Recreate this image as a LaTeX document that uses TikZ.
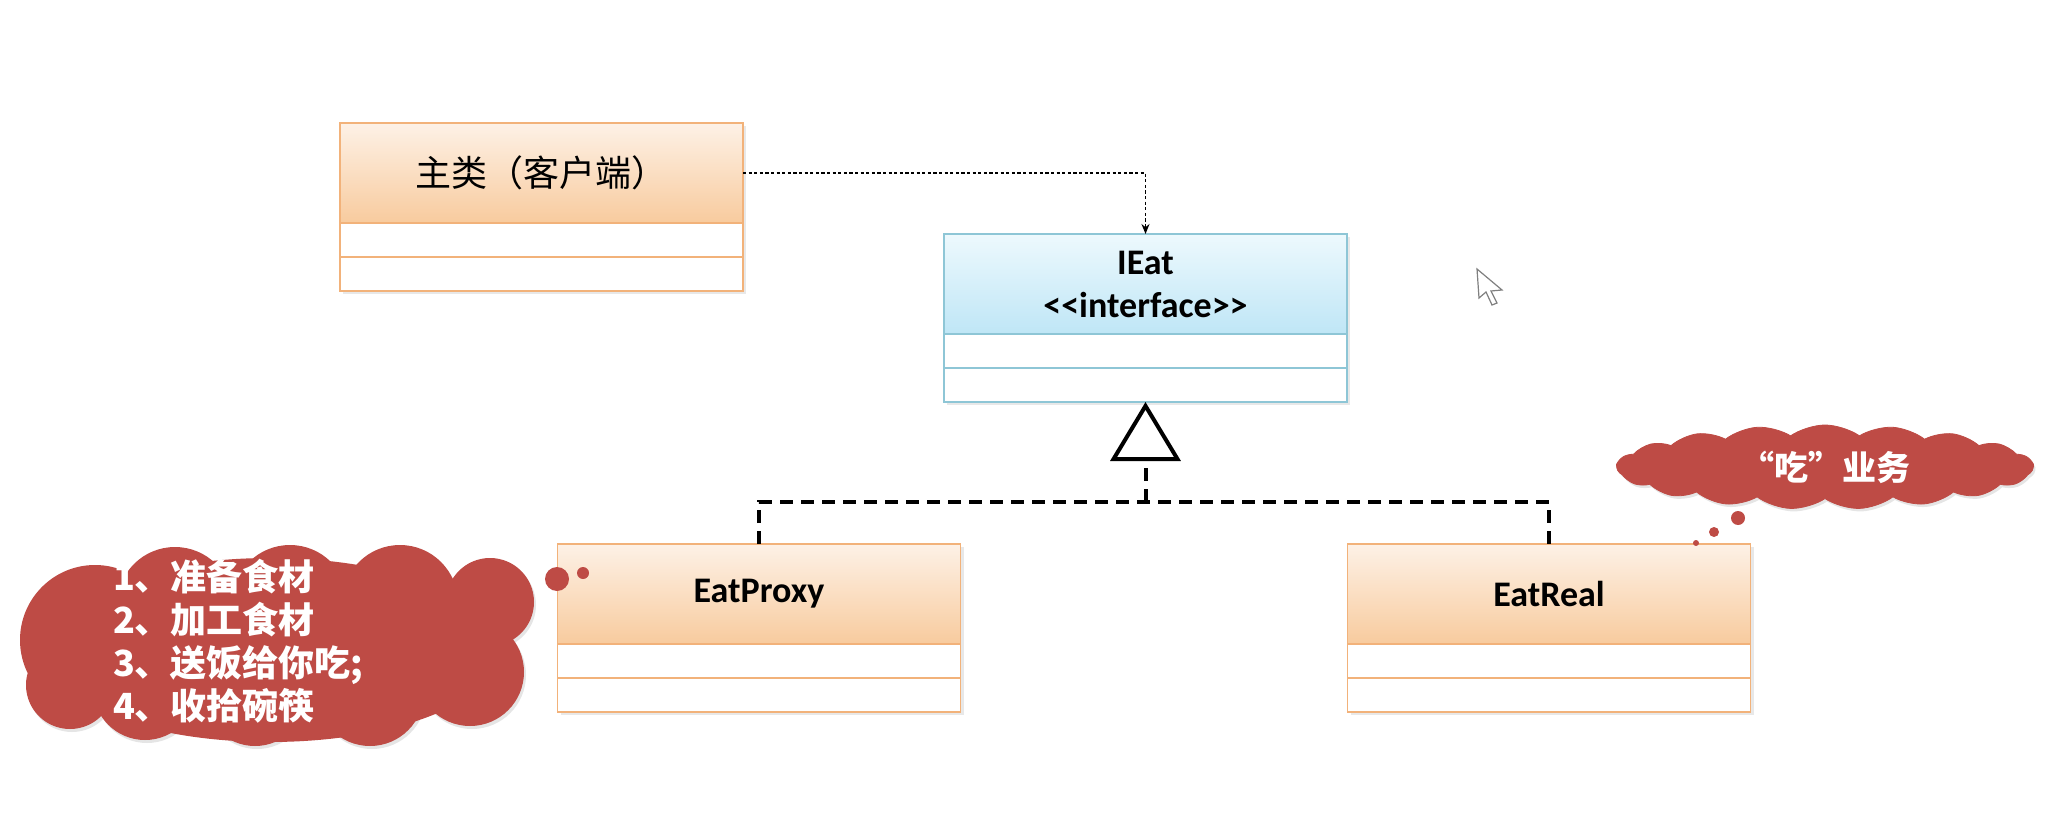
\documentclass[tikz,border=0pt]{standalone}
\usepackage{fontspec}
\setmainfont{Carlito}
\newfontfamily\cjk{Noto Sans CJK SC}
\usetikzlibrary{arrows.meta,positioning,shapes.symbols,shadows}

\definecolor{orangeline}{HTML}{F2B27A}
\definecolor{orangetop}{HTML}{FDF1E6}
\definecolor{orangebot}{HTML}{F8CB9E}
\definecolor{blueline}{HTML}{8EC6D6}
\definecolor{bluetop}{HTML}{EDF9FD}
\definecolor{bluebot}{HTML}{BFE6F6}
\definecolor{cloudred}{HTML}{BE4B45}

\begin{document}
\begin{tikzpicture}[
        x=0.5pt, y=-0.5pt,
        every node/.style={inner sep=0pt, outer sep=0pt},
        boxshadow/.style={drop shadow={opacity=0.18, shadow xshift=1.5pt, shadow yshift=-1.5pt}},
        head/.style={draw=orangeline, line width=0.75pt, top color=orangetop,
            bottom color=orangebot, minimum width=201.5pt, minimum height=50pt,
            font=\fontsize{18}{21.5}\selectfont\bfseries, align=center, boxshadow},
        ihead/.style={head, draw=blueline, top color=bluetop, bottom color=bluebot},
        part/.style={draw=orangeline, line width=0.75pt, fill=white,
            minimum width=201.5pt, minimum height=17pt, boxshadow},
        ipart/.style={part, draw=blueline},
        dep/.style={dash pattern=on 1.6pt off 1.2pt, line width=0.6pt,
            -{Stealth[length=5pt, width=4pt]}},
        realize/.style={line width=2pt, dash pattern=on 6.5pt off 4pt},
        cloudshadow/.style={drop shadow={opacity=0.2, shadow xshift=1pt, shadow yshift=-1.5pt}},
        bubble/.style={cloud, cloud ignores aspect, fill=cloudred, draw=cloudred, cloudshadow},
        bubbletext/.style={text=white, font=\cjk\bfseries},
    ]
    % frame
    \path[fill=white, use as bounding box] (0,0) rectangle (2046,824);

    % client
    \node[head] (main) at (541.5,173) {\cjk\mdseries 主类（客户端）};
    \node[part, below=0pt of main] (main-a) {};
    \node[part, below=0pt of main-a] (main-o) {};

    % interface
    \node[ihead] (ieat) at (1145.5,284) {IEat\\<{}<interface>{}>};
    \node[ipart, below=0pt of ieat] (ieat-a) {};
    \node[ipart, below=0pt of ieat-a] (ieat-o) {};

    % proxy
    \node[head] (proxy) at (759,594) {EatProxy};
    \node[part, below=0pt of proxy] (proxy-a) {};
    \node[part, below=0pt of proxy-a] (proxy-o) {};

    % real
    \node[head] (real) at (1549,594) {EatReal};
    \node[part, below=0pt of real] (real-a) {};
    \node[part, below=0pt of real-a] (real-o) {};

    % uses
    \draw[dep] (main.east) -| (ieat.north);

    % implements
    \draw[realize] (proxy.north) -- ++(0,-42) coordinate (join)
                   -- (join -| real.north) -- (real.north);
    \draw[realize, -{Triangle[open, length=29.5pt, width=35pt]}]
                   (join -| ieat-o.south) -- (ieat-o.south);

    % notes: the big cloud is a heap of puffs
    \fill[cloudred, cloudshadow]
        (95,640) circle (37.5pt)  (175,605) circle (29pt)  (290,603) circle (29pt)
        (400,603) circle (29pt)   (490,602) circle (22pt)  (470,672) circle (27pt)
        (370,692) circle (27pt)   (255,694) circle (26pt)  (145,688) circle (26pt)
        (70,685) circle (22pt);
    \fill[cloudred] (270,650) ellipse [x radius=115pt, y radius=46pt];
    \node[bubbletext, anchor=west, align=left,
          font=\cjk\bfseries\fontsize{18}{21.5}\selectfont] (steps) at (113,641)
          {1、准备食材\\2、加工食材\\3、送饭给你吃;\\4、收拾碗筷};
    \fill[cloudred] (557,579) circle (6pt);
    \fill[cloudred] (583,573) circle (3pt);

    \node[bubble, cloud puffs=19, cloud puff arc=70, minimum width=208pt, minimum height=42pt,
          bubbletext, font=\cjk\bfseries\fontsize{17}{20}\selectfont] (eat) at (1825,467) {“吃”业务};
    \fill[cloudred] (1738,518) circle (3.5pt);
    \fill[cloudred] (1714,532) circle (2.5pt);
    \fill[cloudred] (1696,543) circle (1.5pt);

    % pointer
    \filldraw[fill=white, draw=gray, line width=0.6pt]
        (1477,269) -- ++(2,29) -- ++(7,-6) -- ++(6,13) -- ++(5,-2)
        -- ++(-6,-12) -- ++(11,-1) -- cycle;
\end{tikzpicture}
\end{document}
